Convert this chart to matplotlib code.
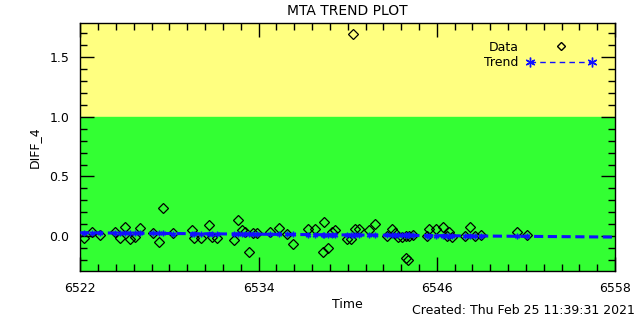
import numpy as np
import matplotlib
matplotlib.use("Agg")
import matplotlib.pyplot as plt
from matplotlib.lines import Line2D
from matplotlib.legend_handler import HandlerLine2D
from matplotlib.ticker import MultipleLocator

# data
time = [6522.25, 6522.82, 6523.31, 6524.32, 6524.69, 6525.03, 6525.37, 6525.66,
        6526.04, 6526.92, 6527.32, 6527.59, 6528.22, 6529.50, 6529.68, 6530.15,
        6530.63, 6530.85, 6531.19, 6532.33, 6532.64, 6532.87, 6533.09, 6533.38,
        6533.65, 6533.92, 6534.80, 6535.40, 6535.94, 6536.34, 6537.35, 6537.82,
        6538.41, 6538.32, 6538.65, 6538.95, 6539.15, 6539.93, 6540.20, 6540.38,
        6540.50, 6540.79, 6541.46, 6541.86, 6542.65, 6543.00, 6543.19, 6543.41,
        6543.66, 6543.90, 6544.13, 6544.42, 6543.93, 6544.07, 6545.35, 6545.50,
        6545.96, 6546.39, 6546.68, 6546.80, 6547.01, 6547.91, 6548.24, 6548.58,
        6548.98, 6551.37, 6552.09]
diff4 = [-0.019, 0.036, 0.008, 0.031, -0.014, 0.073, -0.023, -0.006,
         0.067, 0.025, -0.053, 0.232, 0.025, 0.048, -0.014, -0.019,
         0.091, -0.006, -0.019, -0.036, 0.134, 0.050, 0.036, -0.137,
         0.023, 0.023, 0.031, 0.065, 0.017, -0.070, 0.056, 0.063,
         0.117, -0.134, -0.103, 0.038, 0.054, -0.023, -0.028, 1.693,
         0.056, 0.056, 0.054, 0.101, 0.004, 0.057, 0.028, -0.006,
         -0.004, 0.0, 0.0, 0.008, -0.182, -0.201, 0.0, 0.056,
         0.063, 0.078, 0.0, 0.038, -0.006, 0.004, 0.078, 0.004,
         0.006, 0.036, 0.006]

# fitted trend line end points
trend_x = [6522, 6558]
trend_y = [0.028, -0.008]

fig = plt.figure(figsize=(6.4, 3.2), dpi=100)
ax = fig.add_axes([0.1255, 0.154, 0.8355, 0.773])

xmin, xmax = 6522, 6558
ymin, ymax = -0.29, 1.783
ax.set_xlim(xmin, xmax)
ax.set_ylim(ymin, ymax)

# yellow / green zones
ax.axhspan(1.0, ymax, color="#ffff80", zorder=0)
ax.axhspan(ymin, 1.0, color="#33ff33", zorder=0)

ax.plot(time, diff4, linestyle="none", marker="D", markersize=5,
        markerfacecolor="none", markeredgecolor="black", markeredgewidth=0.9,
        zorder=3)

# trend: dashed line with asterisks at the data times
trend_at_data = np.interp(time, trend_x, trend_y)
ax.plot(trend_x, trend_y, color="#1010ff", linestyle=(0, (3, 1.5)),
        linewidth=2.2, zorder=4)
ax.plot(time, trend_at_data, linestyle="none", marker=(6, 2, 0),
        markersize=4, color="#1010ff", markeredgewidth=1, zorder=4)

ax.xaxis.set_major_locator(MultipleLocator(12, offset=6))
ax.xaxis.set_minor_locator(MultipleLocator(1.2))
ax.yaxis.set_major_locator(MultipleLocator(0.5))
ax.yaxis.set_minor_locator(MultipleLocator(0.1))
ax.tick_params(which="both", direction="in", top=True, right=True,
               labelsize=9, color="black")
ax.tick_params(which="major", length=10, width=1, pad=8)
ax.tick_params(which="minor", length=5, width=1)
ax.xaxis.set_major_formatter(plt.FuncFormatter(lambda v, p: f"{v:.0f}"))
ax.yaxis.set_major_formatter(plt.FuncFormatter(lambda v, p: f"{v:.1f}"))
for s in ax.spines.values():
    s.set_linewidth(1)

ax.set_xlabel("Time", fontsize=9, labelpad=2)
ax.set_ylabel("DIFF_4", fontsize=9, labelpad=6)
ax.set_title("MTA TREND PLOT", fontsize=10, pad=6)
fig.text(0.992, 0.01, "Created: Thu Feb 25 11:39:31 2021", ha="right",
         va="bottom", fontsize=9)

# legend: labels on the left, symbols on the right
h_data = Line2D([], [], linestyle="none", marker="D", markersize=4.5,
                markerfacecolor="none", markeredgecolor="black")
h_trend = Line2D([], [], color="#1010ff", linestyle=(0, (4, 3)), linewidth=1,
                 marker=(6, 2, 0), markersize=7, markeredgewidth=1)
ax.legend([h_data, h_trend], ["Data", "Trend"], loc="upper right",
          bbox_to_anchor=(0.985, 0.975), frameon=False, markerfirst=False,
          fontsize=9, handlelength=5.6, handletextpad=0.6, labelspacing=0.2,
          handler_map={h_data: HandlerLine2D(numpoints=1),
                       h_trend: HandlerLine2D(numpoints=2)})

fig.savefig("out.png", dpi=100)
